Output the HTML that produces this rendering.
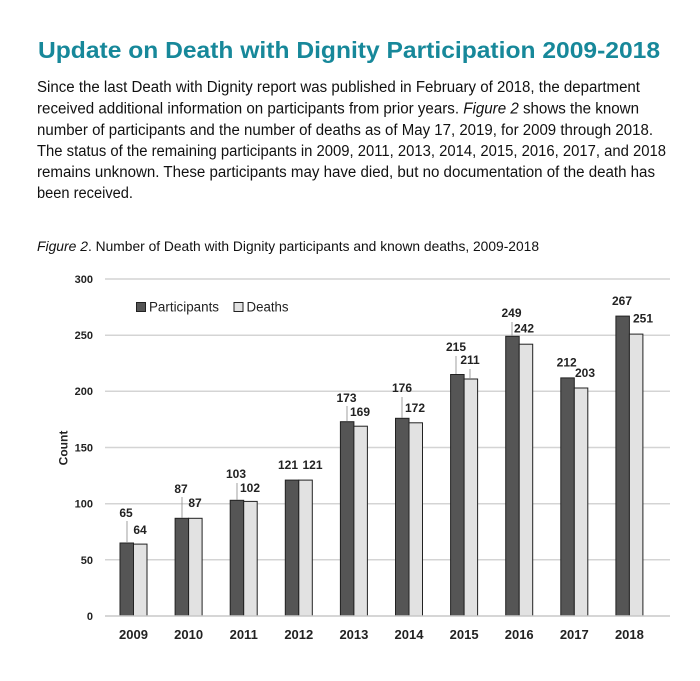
<!DOCTYPE html>
<html><head><meta charset="utf-8"><style>
html,body{margin:0;padding:0;background:#fff;}
svg{display:block;}
text{font-family:"Liberation Sans",Arial,sans-serif;}
</style></head><body>
<svg width="700" height="681" viewBox="0 0 700 681" xmlns="http://www.w3.org/2000/svg">
<rect width="700" height="681" fill="#fff"/>
<!-- Title -->
<text x="38" y="58" font-size="23" font-weight="bold" fill="#17889a" textLength="622" lengthAdjust="spacingAndGlyphs">Update on Death with Dignity Participation 2009-2018</text>
<!-- Body -->
<g font-size="15.5" fill="#111">
<text x="37" y="92" textLength="603" lengthAdjust="spacingAndGlyphs">Since the last Death with Dignity report was published in February of 2018, the department</text>
<text x="37" y="113.5" textLength="602" lengthAdjust="spacingAndGlyphs">received additional information on participants from prior years. <tspan font-style="italic">Figure 2</tspan> shows the known</text>
<text x="37" y="135" textLength="616" lengthAdjust="spacingAndGlyphs">number of participants and the number of deaths as of May 17, 2019, for 2009 through 2018.</text>
<text x="37" y="156" textLength="629" lengthAdjust="spacingAndGlyphs">The status of the remaining participants in 2009, 2011, 2013, 2014, 2015, 2016, 2017, and 2018</text>
<text x="37" y="177" textLength="618" lengthAdjust="spacingAndGlyphs">remains unknown. These participants may have died, but no documentation of the death has</text>
<text x="37" y="198" textLength="96" lengthAdjust="spacingAndGlyphs">been received.</text>
</g>
<!-- Caption -->
<g font-size="14" fill="#111">
<text x="37" y="251" font-style="italic" textLength="51" lengthAdjust="spacingAndGlyphs">Figure 2</text>
<text x="88" y="251" textLength="451" lengthAdjust="spacingAndGlyphs">. Number of Death with Dignity participants and known deaths, 2009-2018</text>
</g>
<!-- Gridlines -->
<g stroke="#d4d4d4" stroke-width="1.5">
<line x1="105" y1="279" x2="670" y2="279"/>
<line x1="105" y1="335.2" x2="670" y2="335.2"/>
<line x1="105" y1="391.3" x2="670" y2="391.3"/>
<line x1="105" y1="447.5" x2="670" y2="447.5"/>
<line x1="105" y1="503.7" x2="670" y2="503.7"/>
<line x1="105" y1="559.8" x2="670" y2="559.8"/>
</g>
<!-- Y labels -->
<g font-size="11" font-weight="bold" fill="#222" text-anchor="end">
<text x="93" y="283">300</text>
<text x="93" y="339">250</text>
<text x="93" y="395">200</text>
<text x="93" y="451.5">150</text>
<text x="93" y="507.5">100</text>
<text x="93" y="564">50</text>
<text x="93" y="620">0</text>
</g>
<text transform="translate(67.5,448) rotate(-90)" font-size="12" font-weight="bold" fill="#222" text-anchor="middle">Count</text>
<!-- Legend -->
<rect x="136.5" y="302.5" width="9" height="9" fill="#555" stroke="#222" stroke-width="1"/>
<text x="149" y="311.5" font-size="13.5" fill="#222" textLength="70" lengthAdjust="spacingAndGlyphs">Participants</text>
<rect x="234" y="302.5" width="9" height="9" fill="#e2e2e2" stroke="#222" stroke-width="1"/>
<text x="246.5" y="311.5" font-size="13.5" fill="#222" textLength="42" lengthAdjust="spacingAndGlyphs">Deaths</text>
<!-- Bars -->
<g stroke="#222" stroke-width="1">
<rect x="120" y="543" width="13.5" height="73" fill="#555"/>
<rect x="133.5" y="544.1" width="13.5" height="71.9" fill="#e2e2e2"/>
<rect x="175.1" y="518.3" width="13.5" height="97.7" fill="#555"/>
<rect x="188.6" y="518.3" width="13.5" height="97.7" fill="#e2e2e2"/>
<rect x="230.2" y="500.3" width="13.5" height="115.7" fill="#555"/>
<rect x="243.7" y="501.4" width="13.5" height="114.6" fill="#e2e2e2"/>
<rect x="285.3" y="480.1" width="13.5" height="135.9" fill="#555"/>
<rect x="298.8" y="480.1" width="13.5" height="135.9" fill="#e2e2e2"/>
<rect x="340.4" y="421.7" width="13.5" height="194.3" fill="#555"/>
<rect x="353.9" y="426.2" width="13.5" height="189.8" fill="#e2e2e2"/>
<rect x="395.5" y="418.3" width="13.5" height="197.7" fill="#555"/>
<rect x="409" y="422.8" width="13.5" height="193.2" fill="#e2e2e2"/>
<rect x="450.6" y="374.5" width="13.5" height="241.5" fill="#555"/>
<rect x="464.1" y="379" width="13.5" height="237" fill="#e2e2e2"/>
<rect x="505.7" y="336.3" width="13.5" height="279.7" fill="#555"/>
<rect x="519.2" y="344.2" width="13.5" height="271.8" fill="#e2e2e2"/>
<rect x="560.8" y="377.9" width="13.5" height="238.1" fill="#555"/>
<rect x="574.3" y="388" width="13.5" height="228" fill="#e2e2e2"/>
<rect x="615.9" y="316.1" width="13.5" height="299.9" fill="#555"/>
<rect x="629.4" y="334.1" width="13.5" height="281.9" fill="#e2e2e2"/>
</g>
<!-- Axis line -->
<line x1="105" y1="616" x2="670" y2="616" stroke="#c8c8c8" stroke-width="1.5"/>
<!-- Leader lines -->
<g stroke="#888" stroke-width="0.8">
<line x1="127" y1="521" x2="127" y2="543"/>
<line x1="182" y1="497" x2="182" y2="518"/>
<line x1="237" y1="483" x2="237" y2="500"/>
<line x1="347" y1="406" x2="347" y2="421"/>
<line x1="402" y1="397" x2="402" y2="418"/>
<line x1="456" y1="356" x2="456" y2="374"/>
<line x1="470" y1="369" x2="470" y2="379"/>
<line x1="512" y1="322" x2="512" y2="336"/>
</g>
<!-- Value labels -->
<g font-size="12" font-weight="bold" fill="#222" text-anchor="middle">
<text x="126" y="517">65</text>
<text x="140" y="534">64</text>
<text x="181" y="493">87</text>
<text x="195" y="507">87</text>
<text x="236" y="478">103</text>
<text x="250" y="492">102</text>
<text x="288" y="469">121</text>
<text x="312.5" y="469">121</text>
<text x="346.5" y="402">173</text>
<text x="360" y="416">169</text>
<text x="402" y="392">176</text>
<text x="415" y="412">172</text>
<text x="456" y="351">215</text>
<text x="470" y="364">211</text>
<text x="511.5" y="317">249</text>
<text x="524" y="332.5">242</text>
<text x="566.7" y="366.5">212</text>
<text x="585" y="377">203</text>
<text x="622" y="305">267</text>
<text x="643" y="322.5">251</text>
</g>
<!-- Year labels -->
<g font-size="13" font-weight="bold" fill="#222" text-anchor="middle">
<text x="133.5" y="639">2009</text>
<text x="188.6" y="639">2010</text>
<text x="243.7" y="639">2011</text>
<text x="298.8" y="639">2012</text>
<text x="353.9" y="639">2013</text>
<text x="409" y="639">2014</text>
<text x="464.1" y="639">2015</text>
<text x="519.2" y="639">2016</text>
<text x="574.3" y="639">2017</text>
<text x="629.4" y="639">2018</text>
</g>
</svg>
</body></html>
